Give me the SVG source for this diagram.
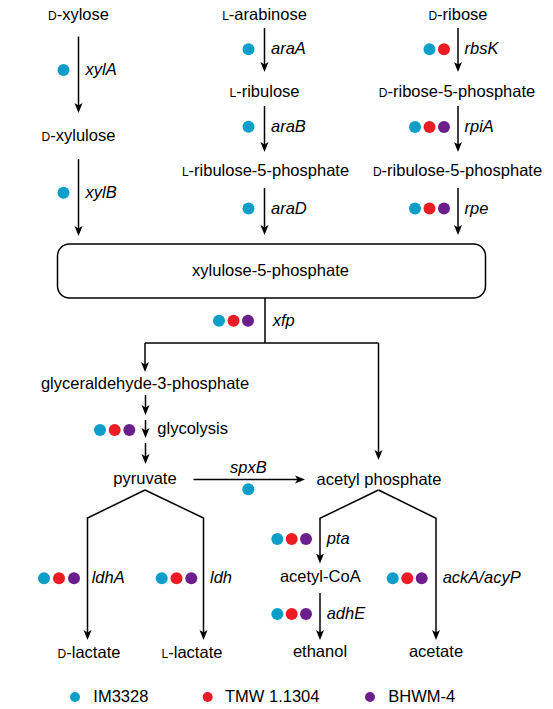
<svg xmlns="http://www.w3.org/2000/svg" width="553" height="709" viewBox="0 0 553 709">
<defs>
<marker id="ah" viewBox="0 0 10 10" refX="6" refY="5" markerWidth="10" markerHeight="10" markerUnits="userSpaceOnUse" orient="auto"><path d="M0,1 L10,5 L0,9 L2.5,5 z" fill="#000"/></marker>
</defs>
<style>
text{font-family:"Liberation Sans",Arial,sans-serif;font-size:16.5px;fill:#000}
.n{text-anchor:middle}
.g{font-style:italic}
.sc{font-size:12px}
.c{fill:none;stroke:#000;stroke-width:1.5}
.a{marker-end:url(#ah)}
.b{fill:#0A9EC8}.r{fill:#ED1C24}.p{fill:#6C1F8C}
.box{fill:#fff;stroke:#000;stroke-width:1.5}
</style>
<rect width="553" height="709" fill="#fff"/>

<g id="connectors">
<path class="c a" d="M78.5,36.5 V109"/>
<path class="c a" d="M78.5,159 V232"/>
<path class="c a" d="M264.5,28 V68"/>
<path class="c a" d="M264.5,106 V148"/>
<path class="c a" d="M264.5,188 V231"/>
<path class="c a" d="M458,28 V68"/>
<path class="c a" d="M458,106 V148"/>
<path class="c a" d="M458,188 V231"/>
<path class="c" d="M265,298 V343 M145,343 H378.5"/>
<path class="c a" d="M145,343 V368"/>
<path class="c a" d="M378.5,343 V456"/>
<path class="c a" d="M145.5,395 V411"/>
<path class="c a" d="M145.5,420 V434"/>
<path class="c a" d="M145.5,443 V460"/>
<path class="c a" d="M193.5,479.5 H301"/>
<path class="c a" d="M145,490 L87.5,518 V636"/>
<path class="c a" d="M145,490 L203.5,518 V636"/>
<path class="c a" d="M378.5,490 L320,518.3 V559.5"/>
<path class="c a" d="M378.5,490 L436,518.3 V636"/>
<path class="c a" d="M320,593 V636"/>
</g>

<g id="enzymes">
<circle class="b" cx="63.5" cy="70" r="6"/><text class="g" x="85.6" y="75">xylA</text>
<circle class="b" cx="63.5" cy="192.7" r="6"/><text class="g" x="85.6" y="197.5">xylB</text>
<circle class="b" cx="248.5" cy="49.3" r="6"/><text class="g" x="271" y="54">araA</text>
<circle class="b" cx="248.5" cy="126.7" r="6"/><text class="g" x="271" y="131.5">araB</text>
<circle class="b" cx="248.5" cy="208.5" r="6"/><text class="g" x="271" y="213.5">araD</text>
<circle class="b" cx="429.5" cy="49.3" r="6"/><circle class="r" cx="444" cy="49.3" r="6"/><text class="g" x="464.5" y="54">rbsK</text>
<circle class="b" cx="415" cy="127" r="6"/><circle class="r" cx="429.5" cy="127" r="6"/><circle class="p" cx="444" cy="127" r="6"/><text class="g" x="464.5" y="132">rpiA</text>
<circle class="b" cx="415" cy="208.5" r="6"/><circle class="r" cx="429.5" cy="208.5" r="6"/><circle class="p" cx="444" cy="208.5" r="6"/><text class="g" x="464.5" y="213.5">rpe</text>
<circle class="b" cx="219" cy="320.7" r="6"/><circle class="r" cx="233.5" cy="320.7" r="6"/><circle class="p" cx="248" cy="320.7" r="6"/><text class="g" x="272.7" y="325.5">xfp</text>
<circle class="b" cx="100" cy="430" r="6"/><circle class="r" cx="114.7" cy="430" r="6"/><circle class="p" cx="129.3" cy="430" r="6"/><text x="157.3" y="434">glycolysis</text>
<text class="g n" x="248.3" y="472.7">spxB</text><circle class="b" cx="248.3" cy="489.3" r="6"/>
<circle class="b" cx="44" cy="578.3" r="6"/><circle class="r" cx="59" cy="578.3" r="6"/><circle class="p" cx="74" cy="578.3" r="6"/><text class="g" x="91.7" y="583">ldhA</text>
<circle class="b" cx="161.7" cy="578.3" r="6"/><circle class="r" cx="176.5" cy="578.3" r="6"/><circle class="p" cx="191.3" cy="578.3" r="6"/><text class="g" x="210" y="583">ldh</text>
<circle class="b" cx="277.3" cy="539" r="6"/><circle class="r" cx="291.7" cy="539" r="6"/><circle class="p" cx="306" cy="539" r="6"/><text class="g" x="326.7" y="543.5">pta</text>
<circle class="b" cx="392.7" cy="578.3" r="6"/><circle class="r" cx="407.3" cy="578.3" r="6"/><circle class="p" cx="421.7" cy="578.3" r="6"/><text class="g" x="442.7" y="583">ackA/acyP</text>
<circle class="b" cx="277.3" cy="614" r="6"/><circle class="r" cx="291.7" cy="614" r="6"/><circle class="p" cx="306" cy="614" r="6"/><text class="g" x="326.7" y="619">adhE</text>
</g>

<g id="n-d-xylose"><text class="n" x="78.5" y="20"><tspan class="sc">D</tspan>-xylose</text></g>
<g id="n-d-xylulose"><text class="n" x="78.5" y="140.5"><tspan class="sc">D</tspan>-xylulose</text></g>
<g id="n-l-arabinose"><text class="n" x="264.5" y="20"><tspan class="sc">L</tspan>-arabinose</text></g>
<g id="n-l-ribulose"><text class="n" x="264.5" y="96.7"><tspan class="sc">L</tspan>-ribulose</text></g>
<g id="n-l-ribulose-5-phosphate"><text class="n" x="265.5" y="176"><tspan class="sc">L</tspan>-ribulose-5-phosphate</text></g>
<g id="n-d-ribose"><text class="n" x="458" y="20"><tspan class="sc">D</tspan>-ribose</text></g>
<g id="n-d-ribose-5-phosphate"><text class="n" x="457" y="96.7"><tspan class="sc">D</tspan>-ribose-5-phosphate</text></g>
<g id="n-d-ribulose-5-phosphate"><text class="n" x="457.5" y="176"><tspan class="sc">D</tspan>-ribulose-5-phosphate</text></g>
<g id="n-xylulose-5-phosphate"><rect class="box" x="57.5" y="244" width="428" height="54" rx="12"/><text class="n" x="270.5" y="276">xylulose-5-phosphate</text></g>
<g id="n-glyceraldehyde-3-phosphate"><text class="n" x="145" y="389">glyceraldehyde-3-phosphate</text></g>
<g id="n-pyruvate"><text class="n" x="145" y="484">pyruvate</text></g>
<g id="n-acetyl-phosphate"><text class="n" x="379" y="484.5">acetyl phosphate</text></g>
<g id="n-d-lactate"><text class="n" x="89" y="657.5"><tspan class="sc">D</tspan>-lactate</text></g>
<g id="n-l-lactate"><text class="n" x="192" y="657.5"><tspan class="sc">L</tspan>-lactate</text></g>
<g id="n-acetyl-coa"><text class="n" x="320.3" y="582">acetyl-CoA</text></g>
<g id="n-ethanol"><text class="n" x="320" y="657">ethanol</text></g>
<g id="n-acetate"><text class="n" x="436" y="657">acetate</text></g>

<g id="legend">
<circle class="b" cx="75" cy="697" r="5"/><text x="93.3" y="702">IM3328</text>
<circle class="r" cx="207.7" cy="697" r="5"/><text x="225" y="702">TMW 1.1304</text>
<circle class="p" cx="370" cy="697" r="5"/><text x="388.3" y="702">BHWM-4</text>
</g>
</svg>
